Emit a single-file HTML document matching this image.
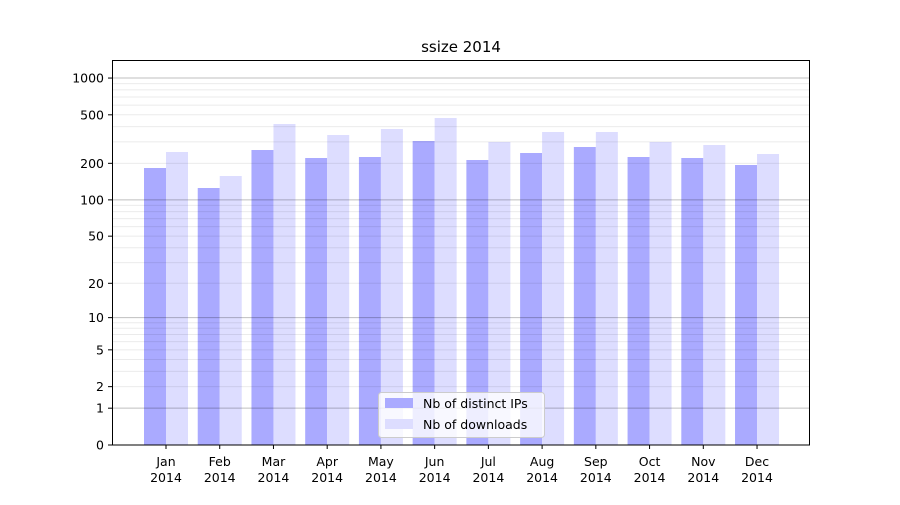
<!DOCTYPE html>
<html><head><meta charset="utf-8"><style>
body{margin:0;background:#fff;}
svg text{font-family:"DejaVu Sans","Liberation Sans",sans-serif;fill:#000;}
</style></head><body>
<svg id="s" width="900" height="500" xmlns="http://www.w3.org/2000/svg"></svg>
<script>
const s=document.getElementById('s');
const Y=v=>445-122.3*Math.log10(1+v);
let h='<rect width="900" height="500" fill="#fff"/>';
const tops=[[168,152],[188,176],[150,124],[158,135],[157,129],[141,118],[160,142],[153,132],[147,132],[157,142],[158,145],[165,154]];
const mon=['Jan','Feb','Mar','Apr','May','Jun','Jul','Aug','Sep','Oct','Nov','Dec'];
for(let i=0;i<12;i++){const c=166+i*53.73;
h+=`<rect x="${c-22}" y="${tops[i][0]}" width="22" height="${445-tops[i][0]}" fill="#aaaaff"/>`;
h+=`<rect x="${c}" y="${tops[i][1]}" width="22" height="${445-tops[i][1]}" fill="#ddddff"/>`;
h+=`<line x1="${c}" x2="${c}" y1="445" y2="449" stroke="#000"/>`;
h+=`<text x="${c}" y="466" font-size="12.5" text-anchor="middle">${mon[i]}</text><text x="${c}" y="482" font-size="12.5" text-anchor="middle">2014</text>`;}
for(const d of [1,10,100,1000]){for(let m=1;m<10;m++){const v=d*m;const y=Y(v);if(y<60)continue;
const major=(m===1);h+=`<line x1="112" x2="810" y1="${y}" y2="${y}" stroke="${major?'rgba(0,0,0,0.25)':'rgba(0,0,0,0.08)'}" stroke-width="1"/>`;}}
for(const v of [0,1,2,5,10,20,50,100,200,500,1000]){const y=Y(v);
h+=`<line x1="108" x2="112" y1="${y}" y2="${y}" stroke="#000"/><text x="104" y="${y+4.5}" font-size="12.5" text-anchor="end">${v}</text>`;}
h+='<rect x="112.5" y="60.5" width="697" height="384.5" fill="none" stroke="#000"/>';
h+='<text x="461" y="52" font-size="15" text-anchor="middle">ssize 2014</text>';
h+='<rect x="378.5" y="392.5" width="166" height="45" rx="3" fill="#fff" fill-opacity="0.8" stroke="#ccc"/>';
h+='<rect x="385" y="398" width="28" height="10" fill="#aaaaff"/><text x="423" y="408" font-size="12.5">Nb of distinct IPs</text>';
h+='<rect x="385" y="419" width="28" height="10" fill="#ddddff"/><text x="423" y="429" font-size="12.5">Nb of downloads</text>';
s.innerHTML=h;
</script>
</body></html>
